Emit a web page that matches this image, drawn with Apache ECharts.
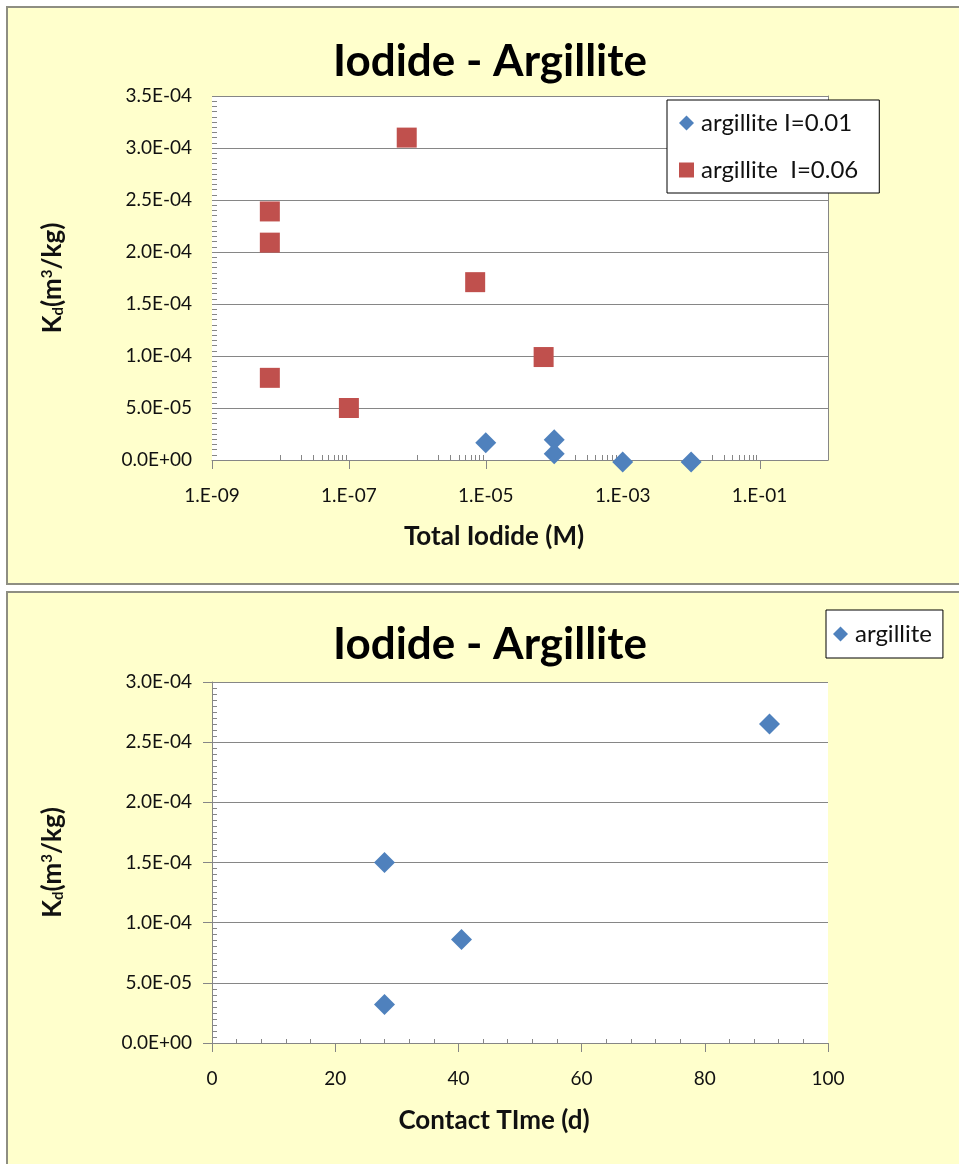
<!DOCTYPE html>
<html><head><meta charset="utf-8">
<script src="https://cdn.jsdelivr.net/npm/echarts@6/dist/echarts.min.js"></script>
<style>
html,body{margin:0;padding:0;background:#fff;width:959px;height:1164px;overflow:hidden}
.panel{position:absolute;background:#FFFFCC;border:2px solid #8E8E82;box-sizing:border-box}
#p1{left:6px;top:6px;width:980px;height:579px}
#p2{left:6px;top:591px;width:980px;height:600px}
#chart{position:absolute;left:0;top:0;width:959px;height:1164px}
</style></head><body>
<div class="panel" id="p1"></div><div class="panel" id="p2"></div>
<div id="chart"></div>
<script>
// ---- data ----
const topTitle = 'Iodide - Argillite';
const bottomTitle = 'Iodide - Argillite';
const topSeriesNames = ['argillite I=0.01', 'argillite  I=0.06'];
const bottomSeriesName = 'argillite';
// argillite I=0.01 : total iodide (M) and Kd (m3/kg)
const i001Conc = [1e-5, 1e-4, 1e-4, 1e-3, 1e-2];
const i001Kd   = [1.65e-5, 1.95e-5, 6.0e-6, -2.0e-6, -2.0e-6];
// argillite I=0.06
const i006Conc = [7e-9, 7e-9, 7e-9, 1e-7, 7e-7, 7e-6, 7e-5];
const i006Kd   = [2.39e-4, 2.09e-4, 7.9e-5, 5.0e-5, 3.1e-4, 1.71e-4, 9.9e-5];
// contact time (d) and Kd
const contactTime = [28, 28, 40.5, 90.5];
const contactKd   = [1.5e-4, 3.2e-5, 8.6e-5, 2.65e-4];
// tick labels of the log axis
const logTickLabels = ['1.E-09', '1.E-07', '1.E-05', '1.E-03', '1.E-01'];
const logLabelExps  = [-9, -7, -5, -3, -1];
const xTitleTop = 'Total Iodide (M)';
const xTitleBottom = 'Contact TIme (d)';

// ---- helpers ----
const FONT = 'Lato';
const AX = '#868686';
const TXT = '#111';
function sci(v) {
  if (Math.abs(v) < 1e-12) return '0.0E+00';
  const s = v.toExponential(1);
  const parts = s.split('e');
  const n = parseInt(parts[1], 10);
  return parts[0] + 'E' + (n < 0 ? '-' : '+') + String(Math.abs(n)).padStart(2, '0');
}
// tick marks of the log axis (Excel base-100 style): majors on the labelled decades,
// minors at 10x..90x of each labelled decade
const logTicks = [];
logLabelExps.forEach(e => logTicks.push([e, 1]));
logLabelExps.forEach(e => {
  for (let k = 1; k <= 9; k++) {
    const p = e + 1 + Math.log10(k);
    if (p <= 0.0001) logTicks.push([p, 0]);
  }
});

const yName = '{a|K}{s|d}{a|(m}{p|3}{a|/kg)}';
const yNameStyle = {
  rich: {
    a: { fontFamily: FONT, fontWeight: 'bold', fontSize: 26, color: TXT },
    s: { fontFamily: FONT, fontWeight: 'bold', fontSize: 15, color: TXT, verticalAlign: 'bottom', padding: [10, 0, 0, 0] },
    p: { fontFamily: FONT, fontWeight: 'bold', fontSize: 15, color: TXT, verticalAlign: 'top', padding: [0, 0, 10, 0] }
  }
};

function yAxis(grid, max) {
  return {
    gridIndex: grid, type: 'value', min: 0, max: max, interval: 5e-5, position: 'left',
    axisLine: { show: true, lineStyle: { color: AX, width: 1 } },
    axisTick: { show: true, length: 9, lineStyle: { color: AX } },
    splitLine: { show: true, lineStyle: { color: AX, width: 1 } },
    axisLabel: { formatter: sci, margin: 20, fontFamily: FONT, fontSize: 19, color: TXT },
    name: yName, nameLocation: 'middle', nameRotate: 90, nameGap: 146, nameTextStyle: yNameStyle
  };
}
// companion axis carrying only the inside minor ticks
function yMinorAxis(grid, max) {
  return {
    gridIndex: grid, type: 'value', min: 0, max: max, interval: 5e-5, position: 'left', offset: 0,
    axisLine: { show: false }, axisLabel: { show: false }, splitLine: { show: false },
    axisTick: { show: false, inside: true },
    minorTick: { show: true, splitNumber: 10, length: 5, lineStyle: { color: AX } }
  };
}

const chart = echarts.init(document.getElementById('chart'), null, { renderer: 'canvas' });
const legendText = { fontFamily: FONT, fontSize: 24, color: TXT, padding: [0, 0, 0, 2] };
const option = {
  backgroundColor: 'transparent',
  animation: false,
  title: [
    { text: topTitle, left: 485, top: 35, textAlign: 'center',
      textStyle: { fontFamily: FONT, fontWeight: 'bold', fontSize: 44, color: '#000' } },
    { text: bottomTitle, left: 485, top: 618, textAlign: 'center',
      textStyle: { fontFamily: FONT, fontWeight: 'bold', fontSize: 44, color: '#000' } }
  ],
  legend: [
    { data: [{ name: topSeriesNames[0], icon: 'diamond' }, { name: topSeriesNames[1], icon: 'rect' }],
      orient: 'vertical', left: 667, top: 100, padding: [11, 21, 11, 12], itemGap: 23,
      itemWidth: 15, itemHeight: 15, backgroundColor: '#fff', borderColor: '#000', borderWidth: 1,
      borderRadius: 0, selectedMode: false, textStyle: legendText },
    { data: [{ name: bottomSeriesName, icon: 'diamond' }],
      orient: 'vertical', left: 826, top: 610, padding: [12, 11, 12, 7],
      itemWidth: 15, itemHeight: 15, backgroundColor: '#fff', borderColor: '#000', borderWidth: 1,
      borderRadius: 0, selectedMode: false, textStyle: legendText }
  ],
  grid: [
    { left: 212, top: 96, width: 616, height: 364, show: true, backgroundColor: '#fff', borderWidth: 0 },
    { left: 212, top: 682, width: 616, height: 361, show: true, backgroundColor: '#fff', borderWidth: 0 }
  ],
  xAxis: [
    { gridIndex: 0, type: 'value', min: -9, max: 0, interval: 1,
      axisLine: { show: true, lineStyle: { color: AX, width: 1 } },
      axisTick: { show: false }, splitLine: { show: false },
      axisLabel: { margin: 26, fontFamily: FONT, fontSize: 19, color: TXT,
        formatter: v => { const i = logLabelExps.indexOf(Math.round(v)); return i >= 0 ? logTickLabels[i] : ''; } },
      name: xTitleTop, nameLocation: 'middle', nameGap: 64,
      nameTextStyle: { fontFamily: FONT, fontWeight: 'bold', fontSize: 26, color: TXT, padding: [0, 52, 0, 0] } },
    { gridIndex: 1, type: 'value', min: 0, max: 100, interval: 20,
      axisLine: { show: true, lineStyle: { color: AX, width: 1 } },
      axisTick: { show: true, length: 9, lineStyle: { color: AX } },
      splitLine: { show: false },
      axisLabel: { margin: 26, fontFamily: FONT, fontSize: 19, color: TXT },
      name: xTitleBottom, nameLocation: 'middle', nameGap: 65,
      nameTextStyle: { fontFamily: FONT, fontWeight: 'bold', fontSize: 26, color: TXT, padding: [0, 52, 0, 0] } },
    { gridIndex: 1, type: 'value', min: 0, max: 100, interval: 20, position: 'bottom', offset: 0,
      axisLine: { show: false }, axisLabel: { show: false }, splitLine: { show: false },
      axisTick: { show: false, inside: true },
      minorTick: { show: true, splitNumber: 5, length: 4, lineStyle: { color: AX } } }
  ],
  yAxis: [ yAxis(0, 3.5e-4), yAxis(1, 3.0e-4), yMinorAxis(0, 3.5e-4), yMinorAxis(1, 3.0e-4) ],
  series: [
    { name: 'logTicks', type: 'custom', xAxisIndex: 0, yAxisIndex: 0, silent: true, z: 1,
      data: logTicks,
      renderItem: (params, api) => {
        const p = api.coord([api.value(0), 0]);
        const major = api.value(1) === 1;
        const x = Math.round(p[0]) + 0.5;
        return { type: 'line',
          shape: { x1: x, y1: p[1] - (major ? 0 : 5), x2: x, y2: p[1] + (major ? 9 : 0) },
          style: { stroke: AX, lineWidth: 1 } };
      } },
    { name: topSeriesNames[0], type: 'scatter', xAxisIndex: 0, yAxisIndex: 0, clip: false, z: 3,
      symbol: 'diamond', symbolSize: 21, itemStyle: { color: '#4F81BD', opacity: 1 },
      data: i001Conc.map((c, i) => [Math.log10(c), i001Kd[i]]) },
    { name: topSeriesNames[1], type: 'scatter', xAxisIndex: 0, yAxisIndex: 0, clip: false, z: 3,
      symbol: 'rect', symbolSize: 20, itemStyle: { color: '#C0504D', opacity: 1 },
      data: i006Conc.map((c, i) => [Math.log10(c), i006Kd[i]]) },
    { name: bottomSeriesName, type: 'scatter', xAxisIndex: 1, yAxisIndex: 1, clip: false, z: 3,
      symbol: 'diamond', symbolSize: 21, itemStyle: { color: '#4F81BD', opacity: 1 },
      data: contactTime.map((t, i) => [t, contactKd[i]]) }
  ]
};
chart.setOption(option);
</script>
</body></html>
